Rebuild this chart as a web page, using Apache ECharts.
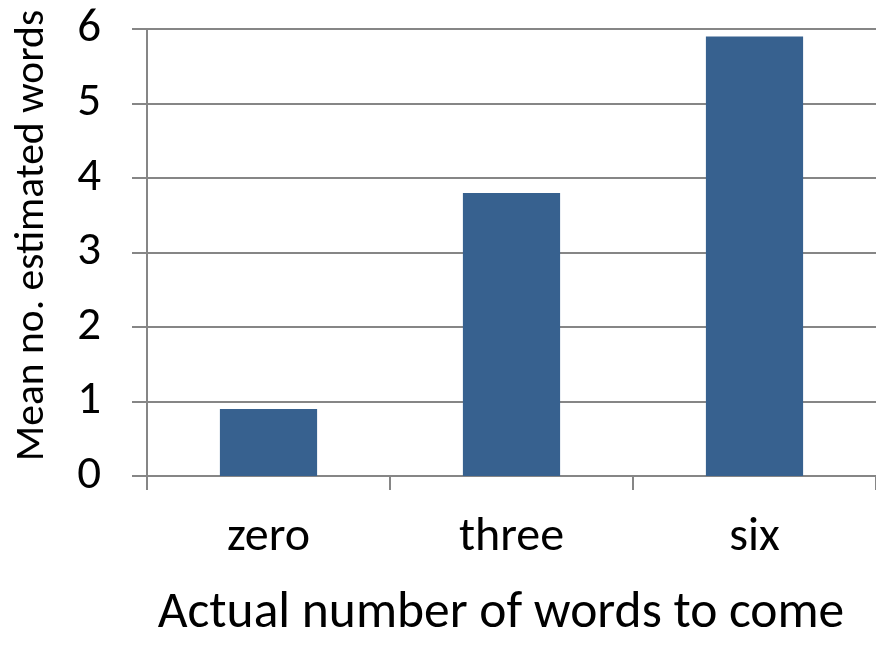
<!DOCTYPE html>
<html>
<head>
<meta charset="utf-8">
<script src="https://cdn.jsdelivr.net/npm/echarts@6/dist/echarts.min.js"></script>
<style>
  html, body { margin: 0; padding: 0; background: #fff; }
  #chart { width: 876px; height: 645px; }
</style>
</head>
<body>
<div id="chart"></div>
<script>
// Mean number of estimated words by actual number of words to come
const categories = ['zero', 'three', 'six'];
const meanEstimated = [0.9, 3.8, 5.9];
const yTicks = [0, 1, 2, 3, 4, 5, 6];

const FONT = 'Carlito, "Open Sans", "Noto Sans", sans-serif';
const LINE = '#868686';

const chart = echarts.init(document.getElementById('chart'));
chart.setOption({
  animation: false,
  grid: { left: 147, top: 29, right: -8, bottom: 157 },
  xAxis: {
    type: 'category',
    data: categories,
    name: 'Actual number of words to come',
    nameLocation: 'middle',
    nameGap: 112,
    // padding nudges the title a little left of the plot centre
    nameTextStyle: { fontFamily: FONT, fontSize: 51.5, color: '#000', padding: [0, 21, 0, 0] },
    axisLine: { lineStyle: { color: LINE, width: 2 } },
    axisTick: { show: true, length: 14, lineStyle: { color: LINE, width: 2 } },
    axisLabel: { fontFamily: FONT, fontSize: 48, color: '#000', margin: 38 }
  },
  yAxis: {
    type: 'value',
    min: yTicks[0],
    max: yTicks[yTicks.length - 1],
    interval: 1,
    name: 'Mean no. estimated words',
    nameLocation: 'middle',
    nameGap: 93,
    // left padding lifts the rotated title above the plot centre
    nameTextStyle: { fontFamily: FONT, fontSize: 41.5, color: '#000', padding: [0, 0, 0, 34] },
    axisLine: { show: true, lineStyle: { color: LINE, width: 2 } },
    axisTick: { show: true, length: 15, lineStyle: { color: LINE, width: 2 } },
    axisLabel: { fontFamily: FONT, fontSize: 47, color: '#000', margin: 46 },
    splitLine: { show: true, lineStyle: { color: LINE, width: 2 } }
  },
  series: [{
    type: 'bar',
    data: meanEstimated,
    barWidth: '40%',
    itemStyle: { color: '#37618f' }
  }]
});
</script>
</body>
</html>
